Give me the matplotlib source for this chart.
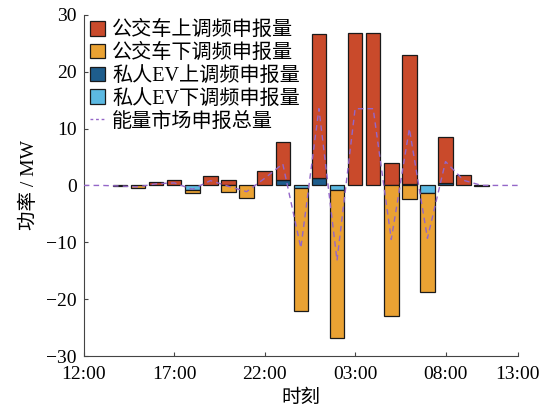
import numpy as np
import matplotlib
matplotlib.use('Agg')
import matplotlib.pyplot as plt
from matplotlib.lines import Line2D

plt.rcParams['font.family'] = ['Liberation Serif', 'Noto Sans CJK SC']
plt.rcParams['axes.unicode_minus'] = True

# hourly slots, 12:00 -> next day
hours = np.arange(24)
bus_up = np.array([0, 0, 0, 0, 0.6, 0.9, 0, 1.7, 0.9, 0, 2.5, 6.7,
                   0, 25.4, 0, 26.8, 26.8, 3.9, 22.6, 0, 8.1, 1.9, 0, 0])
bus_down = np.array([0, 0, -0.15, -0.5, 0, 0, -0.6, 0, -1.2, -2.2, 0, 0,
                     -21.7, 0, -26.1, 0, 0, -23.0, -2.4, -17.35, 0, 0, -0.15, 0])
ev_up = np.array([0, 0, 0, 0, 0, 0, 0, 0, 0, 0, 0, 1.0,
                  0, 1.3, 0, 0, 0, 0, 0.3, 0, 0.5, 0, 0, 0])
ev_down = np.array([0, 0, 0, 0, 0, 0, -0.8, 0, 0, 0, 0, 0,
                    -0.4, 0, -0.8, 0, 0, 0, 0, -1.35, 0, 0, 0, 0])

# energy market total
market_t = np.arange(25)
market = [0, 0, -0.1, -0.25, 0.3, 0.45, -0.7, 0.85, -0.15, -1.1, 1.25, 3.8,
          -11.0, 13.5, -13.2, 13.5, 13.5, -9.5, 10.0, -9.3, 4.2, 0.9, 0, 0, 0]

xticks = [0, 5, 10, 15, 20, 24]
xlabels = ['12:00', '17:00', '22:00', '03:00', '08:00', '13:00']

c_busup = '#c94a2b'
c_busdn = '#eaa233'
c_evup = '#1e5d8c'
c_evdn = '#5cb9e2'
c_line = '#9466c8'
ec = '#1a1a1a'

fig = plt.figure(figsize=(5.48, 4.13), dpi=100)
ax = fig.add_axes([0.153, 0.138, 0.792, 0.826])


def draw(vals, bottom, color):
    m = vals != 0
    ax.bar(hours[m], vals[m], 0.8, bottom=bottom[m], color=color,
           edgecolor=ec, linewidth=0.9, zorder=2)


zero = np.zeros(24)
draw(ev_up, zero, c_evup)
draw(bus_up, ev_up, c_busup)
draw(ev_down, zero, c_evdn)
draw(bus_down, ev_down, c_busdn)

ax.plot(market_t, market, color=c_line, lw=1.0, dashes=(4, 3), zorder=3)

ax.set_xlim(0, 24)
ax.set_ylim(-30, 30)
ax.set_xticks(xticks)
ax.set_xticklabels(xlabels)
ax.set_yticks([-30, -20, -10, 0, 10, 20, 30])
ax.tick_params(direction='in', length=3, labelsize=14, color='#444')
ax.tick_params(axis='x', pad=7)
ax.tick_params(axis='y', pad=5)
ax.spines['top'].set_visible(False)
ax.spines['right'].set_visible(False)
for s in ['left', 'bottom']:
    ax.spines[s].set_color('#444')
    ax.spines[s].set_linewidth(0.8)

ax.set_xlabel('时刻', fontsize=14, labelpad=5)
ax.set_ylabel('功率 / MW', fontsize=14, labelpad=6)

handles = [
    plt.Rectangle((0, 0), 1, 1, fc=c_busup, ec=ec, lw=0.9),
    plt.Rectangle((0, 0), 1, 1, fc=c_busdn, ec=ec, lw=0.9),
    plt.Rectangle((0, 0), 1, 1, fc=c_evup, ec=ec, lw=0.9),
    plt.Rectangle((0, 0), 1, 1, fc=c_evdn, ec=ec, lw=0.9),
    Line2D([0], [0], color=c_line, lw=1.0, dashes=(2, 2)),
]
labels = ['公交车上调频申报量', '公交车下调频申报量', '私人EV上调频申报量',
          '私人EV下调频申报量', '能量市场申报总量']
ax.legend(handles, labels, loc='upper left', frameon=False, fontsize=14.5,
          handlelength=0.75, handleheight=0.75, handletextpad=0.35,
          labelspacing=0.17, borderaxespad=0.15, borderpad=0.15)

fig.savefig('out.png', dpi=100)
